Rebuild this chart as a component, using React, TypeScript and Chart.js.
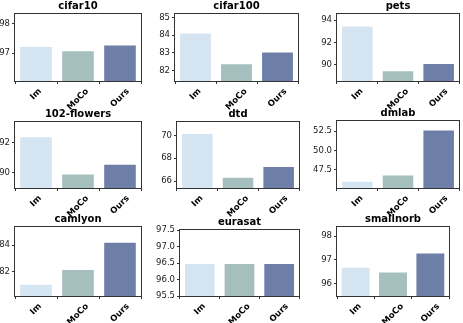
import React, { useEffect, useRef } from "react";
import { Chart, registerables } from "chart.js";

Chart.register(...registerables);

const categories = ["Im", "MoCo", "Ours"];
const barColors = ["#d5e4f1", "#a4bfbd", "#6d7ea7"];

const titles = ["cifar10", "cifar100", "pets", "102-flowers", "dtd", "dmlab", "camlyon", "eurasat", "smallnorb"];

const cifar10 = [97.25, 97.1, 97.3];
const cifar100 = [84.15, 82.42, 83.08];
const pets = [93.5, 89.5, 90.15];
const flowers = [92.4, 89.97, 90.6];
const dtd = [70.2, 66.38, 67.32];
const dmlab = [46.1, 46.9, 52.7];
const camlyon = [81.1, 82.2, 84.25];
const eurasat = [96.5, 96.5, 96.5];
const smallnorb = [96.7, 96.5, 97.3];

const cifar10Ticks = [97, 98];
const cifar100Ticks = [82, 83, 84, 85];
const petsTicks = [90, 92, 94];
const flowersTicks = [90, 92];
const dtdTicks = [66, 68, 70];
const dmlabTicks = [47.5, 50.0, 52.5];
const camlyonTicks = [82, 84];
const eurasatTicks = [95.5, 96.0, 96.5, 97.0, 97.5];
const smallnorbTicks = [96, 97, 98];

const cifar10Range = [96.06, 98.33];
const cifar100Range = [81.42, 85.19];
const petsRange = [88.54, 94.54];
const flowersRange = [89.02, 93.33];
const dtdRange = [65.39, 71.17];
const dmlabRange = [45.15, 53.8];
const camlyonRange = [80.18, 85.35];
const eurasatRange = [95.5, 97.5];
const smallnorbRange = [95.47, 98.38];

const seriesList = [cifar10, cifar100, pets, flowers, dtd, dmlab, camlyon, eurasat, smallnorb];
const tickList = [cifar10Ticks, cifar100Ticks, petsTicks, flowersTicks, dtdTicks, dmlabTicks, camlyonTicks, eurasatTicks, smallnorbTicks];
const rangeList = [cifar10Range, cifar100Range, petsRange, flowersRange, dtdRange, dmlabRange, camlyonRange, eurasatRange, smallnorbRange];
const decimals = [0, 0, 0, 0, 0, 1, 0, 1, 0];

// plot boxes (left, top, right, bottom) in page pixels
const boxes = [
  [15, 14, 141, 81],
  [175, 14, 298, 81],
  [337, 14, 459, 81],
  [15, 122, 141, 188],
  [177, 122, 299, 188],
  [337, 121, 459, 188],
  [15, 227, 141, 296],
  [180, 230, 299, 296],
  [337, 227, 449, 296],
];

const FONT = "'DejaVu Sans', sans-serif";
const LEFT_W = 40;
const TOP_H = 16;
const RIGHT_P = 3;
const BOTTOM_H = 34;

const framePlugin = {
  id: "frame",
  afterDatasetsDraw(chart: any) {
    const { ctx, chartArea } = chart;
    ctx.save();
    ctx.strokeStyle = "#333333";
    ctx.lineWidth = 1;
    ctx.strokeRect(
      Math.round(chartArea.left) - 0.5,
      Math.round(chartArea.top) - 0.5,
      Math.round(chartArea.right - chartArea.left) + 1,
      Math.round(chartArea.bottom - chartArea.top) + 1
    );
    ctx.restore();
  },
};

const labelPlugin = {
  id: "labels",
  afterDraw(chart: any, _args: any, opts: any) {
    const { ctx, chartArea } = chart;
    const xs = chart.scales.x;
    ctx.save();
    // title
    ctx.fillStyle = "#000";
    ctx.font = `bold 10px ${FONT}`;
    ctx.textAlign = "center";
    ctx.textBaseline = "bottom";
    ctx.fillText(opts.title, (chartArea.left + chartArea.right) / 2, chartArea.top - 3);
    // rotated x labels (centered, matplotlib style)
    ctx.font = `bold 8.5px ${FONT}`;
    ctx.textBaseline = "middle";
    categories.forEach((c, i) => {
      const x = xs.getPixelForTick(i);
      const w = ctx.measureText(c).width;
      const h = 8.5;
      const bboxH = (w + h) * Math.SQRT1_2;
      const cy = chartArea.bottom + 6 + bboxH / 2;
      ctx.save();
      ctx.translate(x, cy);
      ctx.rotate(-Math.PI / 4);
      ctx.textAlign = "center";
      ctx.fillText(c, 0, 0);
      ctx.restore();
    });
    ctx.restore();
  },
};

function SubChart({ idx }: { idx: number }) {
  const ref = useRef<HTMLCanvasElement>(null);
  const [l, t, r, b] = boxes[idx];
  const W = r - l + LEFT_W + RIGHT_P;
  const H = b - t + TOP_H + BOTTOM_H;
  useEffect(() => {
    const ticks = tickList[idx];
    const range = rangeList[idx];
    const dec = decimals[idx];
    const chart = new Chart(ref.current as HTMLCanvasElement, {
      type: "bar",
      data: {
        labels: categories,
        datasets: [
          {
            data: seriesList[idx],
            backgroundColor: barColors,
            borderColor: "rgba(255,255,255,0.55)",
            borderWidth: 1,
            categoryPercentage: 1,
            barPercentage: 0.8,
          },
        ],
      },
      options: {
        animation: false,
        responsive: false,
        devicePixelRatio: 1,
        layout: { padding: { left: 0, top: TOP_H, right: RIGHT_P, bottom: 0 } },
        plugins: {
          legend: { display: false },
          tooltip: { enabled: false },
          title: { display: false },
          labels: { title: titles[idx] },
        } as any,
        scales: {
          x: {
            type: "category",
            grid: {
              display: true,
              drawOnChartArea: false,
              drawTicks: true,
              tickLength: 3,
              color: "#333333",
              tickColor: "#333333",
            },
            border: { display: false },
            ticks: { display: false },
            afterFit: (s: any) => {
              s.height = BOTTOM_H;
            },
          },
          y: {
            type: "linear",
            min: range[0],
            max: range[1],
            grid: {
              display: true,
              drawOnChartArea: false,
              drawTicks: true,
              tickLength: 3,
              color: "#333333",
              tickColor: "#333333",
            },
            border: { display: false },
            afterBuildTicks: (s: any) => {
              s.ticks = ticks.map((v) => ({ value: v }));
            },
            ticks: {
              color: "#222",
              padding: 2,
              font: { family: FONT, size: 8.5 },
              callback: (v: any) => Number(v).toFixed(dec),
            },
            afterFit: (s: any) => {
              s.width = LEFT_W;
            },
          },
        },
      },
      plugins: [framePlugin, labelPlugin],
    });
    return () => chart.destroy();
  }, [idx]);
  return (
    <canvas
      ref={ref}
      width={W}
      height={H}
      style={{ position: "absolute", left: l - LEFT_W, top: t - TOP_H, width: W, height: H }}
    />
  );
}

export default function App() {
  return (
    <div style={{ position: "absolute", left: 0, top: 0, width: 463, height: 323, background: "#fff", overflow: "hidden" }}>
      {titles.map((_, i) => (
        <SubChart key={i} idx={i} />
      ))}
    </div>
  );
}
